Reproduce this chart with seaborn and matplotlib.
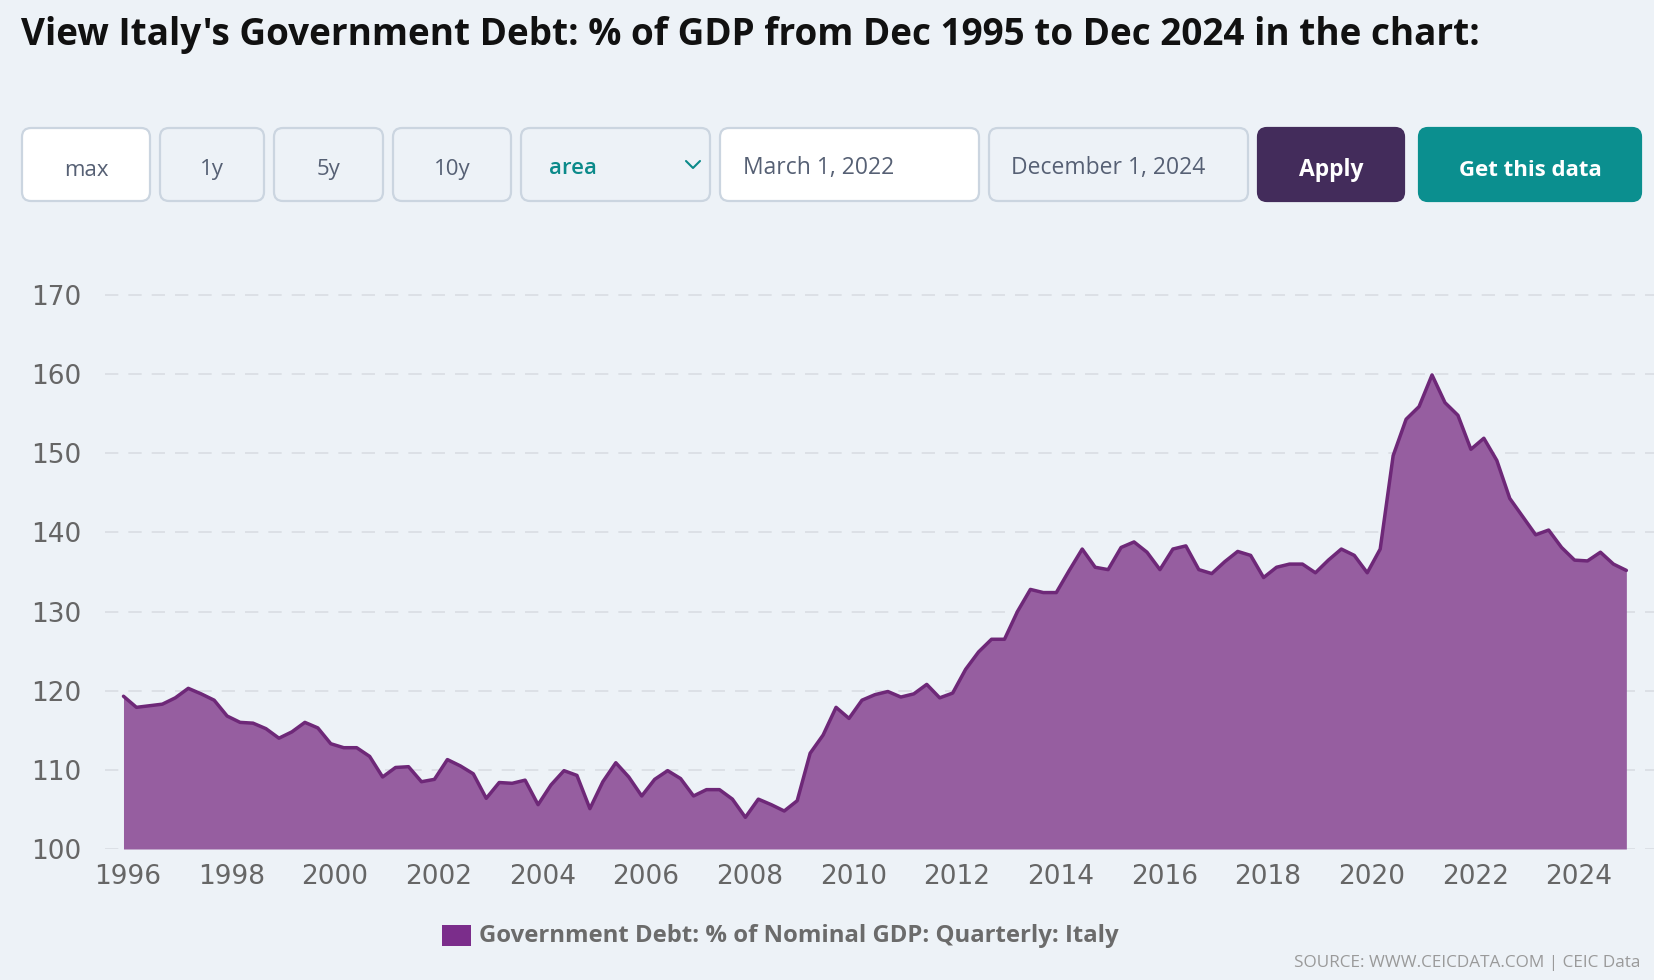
import matplotlib
matplotlib.use("Agg")
import matplotlib.pyplot as plt
from matplotlib.patches import FancyBboxPatch, Rectangle
import numpy as np
import pandas as pd
import seaborn as sns

# Italy: Government Debt, % of nominal GDP, quarterly, Dec 1995 .. Dec 2024
debt_pct = [
    119.3, 117.9, 118.1, 118.3, 119.1, 120.3, 119.6, 118.8, 116.8, 116.0,
    115.9, 115.2, 114.0, 114.8, 116.0, 115.3, 113.3, 112.8, 112.8, 111.7,
    109.1, 110.3, 110.4, 108.5, 108.8, 111.3, 110.5, 109.5, 106.4, 108.4,
    108.3, 108.7, 105.6, 108.1, 109.9, 109.3, 105.1, 108.5, 110.9, 109.1,
    106.7, 108.8, 109.9, 108.9, 106.7, 107.5, 107.5, 106.3, 104.0, 106.3,
    105.6, 104.8, 106.1, 112.1, 114.4, 117.9, 116.5, 118.8, 119.5, 119.9,
    119.2, 119.6, 120.8, 119.1, 119.7, 122.7, 124.9, 126.5, 126.5, 130.0,
    132.8, 132.4, 132.4, 135.2, 137.9, 135.6, 135.3, 138.1, 138.8, 137.5,
    135.3, 137.9, 138.3, 135.3, 134.8, 136.3, 137.6, 137.1, 134.3, 135.6,
    136.0, 136.0, 134.9, 136.5, 137.9, 137.1, 134.9, 137.9, 149.7, 154.3,
    155.9, 159.9, 156.4, 154.8, 150.5, 151.9, 149.1, 144.3, 142.0, 139.7,
    140.3, 138.1, 136.5, 136.4, 137.5, 136.0, 135.2,
]
start_year = 1995 + 11 / 12  # December 1995
year_pos = [start_year + 0.25 * i for i in range(len(debt_pct))]

y_ticks = [100, 110, 120, 130, 140, 150, 160, 170]
x_ticks = list(range(1996, 2025, 2))

title = "View Italy's Government Debt: % of GDP from Dec 1995 to Dec 2024 in the chart:"
buttons = ["max", "1y", "5y", "10y"]
date_from = "March 1, 2022"
date_to = "December 1, 2024"
series_name = "Government Debt: % of Nominal GDP: Quarterly: Italy"
source = "SOURCE: WWW.CEICDATA.COM | CEIC Data"

df = pd.DataFrame({"year": year_pos, "value": debt_pct})

W, H = 1654, 980
BG = "#edf2f7"
BORDER = "#cbd5e0"
TXT = "#566074"

sns.set_theme(style="white")
plt.rcParams["font.family"] = ["Open Sans", "DejaVu Sans"]

fig = plt.figure(figsize=(W / 100, H / 100), dpi=100, facecolor=BG)

# page layer in pixel coordinates
page = fig.add_axes([0, 0, 1, 1])
page.set_xlim(0, W)
page.set_ylim(H, 0)
page.axis("off")
page.set_facecolor(BG)

page.text(21, 35, title, fontsize=26.6, fontweight="bold", color="#111111",
          va="center", ha="left")


def box(x0, x1, face, edge=BORDER):
    page.add_patch(FancyBboxPatch((x0, 128), x1 - x0, 73,
                                  boxstyle="round,pad=0,rounding_size=9",
                                  facecolor=face, edgecolor=edge, linewidth=1.6))


btn_spans = [(22, 150), (160, 264), (274, 383), (393, 511)]
for label, (x0, x1) in zip(buttons, btn_spans):
    box(x0, x1, "white" if label == "max" else BG)
    page.text((x0 + x1) / 2, 170, label, fontsize=16, color=TXT,
              ha="center", va="center")

box(521, 710, BG)
page.text(549, 168, "area", fontsize=16, fontweight="semibold", color="#0b8a8a",
          ha="left", va="center")
page.plot([686, 693, 700], [161, 168, 161], color="#0b8a8a", lw=1.5)

box(720, 979, "white")
page.text(743, 168, date_from, fontsize=16.5, color=TXT, ha="left", va="center")
box(989, 1248, BG)
page.text(1011, 168, date_to, fontsize=16.5, color=TXT, ha="left", va="center")

box(1258, 1404, "#432c5b", edge="#432c5b")
page.text(1331, 170, "Apply", fontsize=16.5, fontweight="bold", color="white",
          ha="center", va="center")
box(1419, 1641, "#0b8f8f", edge="#0b8f8f")
page.text(1530, 170, "Get this data", fontsize=16, fontweight="bold", color="white",
          ha="center", va="center")

# chart
y_lo, y_hi = 100, 172
left, right = 105, 1654
bottom_px = 849
top_px = bottom_px - (y_hi - y_lo) * (849 - 295) / 70
ax = fig.add_axes([left / W, 1 - bottom_px / H, (right - left) / W,
                   (bottom_px - top_px) / H])
ax.set_facecolor("none")

ax.fill_between(df["year"], df["value"], y_lo, color="#965ea0", lw=0, zorder=2)
sns.lineplot(data=df, x="year", y="value", ax=ax, color="#6e2878", lw=2.5, zorder=3)

ax.set_xlim(1995.56, 2025.45)
ax.set_ylim(y_lo, y_hi)
ax.set_yticks(y_ticks)
ax.set_xticks(x_ticks)
ax.set_xticklabels([str(t) for t in x_ticks])
ax.set_xlabel("")
ax.set_ylabel("")
ax.grid(axis="y", color="#d9dde3", lw=1.2, linestyle=(0, (8, 6)), zorder=1)
ax.grid(axis="x", visible=False)
for s in ax.spines.values():
    s.set_visible(False)
ax.tick_params(axis="both", length=0, labelsize=19, labelcolor="#666666")
for lab in ax.get_xticklabels() + ax.get_yticklabels():
    lab.set_fontfamily("DejaVu Sans")
ax.tick_params(axis="y", pad=17)
ax.tick_params(axis="x", pad=11)

# legend and source
page.add_patch(Rectangle((442, 925), 29, 21, facecolor="#7b2d8b", edgecolor="none"))
page.text(479, 936, series_name, fontsize=17.2, fontweight="bold", color="#6b6b6b",
          ha="left", va="center")
page.text(1640, 963, source, fontsize=12.3, color="#9a9a9a", ha="right", va="center")

fig.savefig("out.png", dpi=100, facecolor=BG)
